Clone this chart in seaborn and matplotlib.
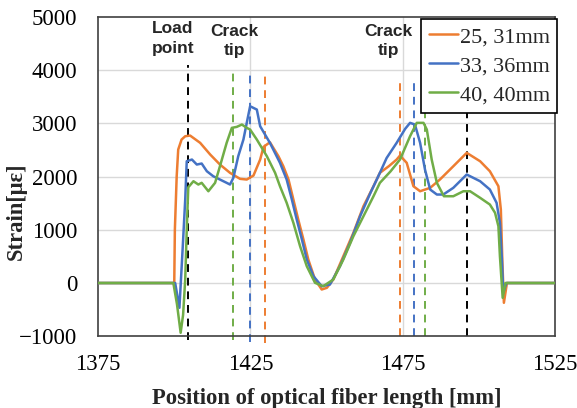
import numpy as np
import pandas as pd
import matplotlib
matplotlib.use("Agg")
import matplotlib.pyplot as plt
import seaborn as sns

# Strain profiles along the optical fiber (position in mm, strain in micro-strain)
series_names = ["25, 31mm", "33, 36mm", "40, 40mm"]
series_colors = ["#ED7D31", "#4472C4", "#70AD47"]

pos_25 = [1375, 1400.0, 1400.2, 1400.8, 1401.3, 1402.4, 1403.6, 1405.2, 1408.5, 1411.8,
          1415.0, 1418.3, 1421.6, 1423.8, 1426.0, 1428.2, 1429.3, 1431.4, 1434.2, 1435.8,
          1437.5, 1439.1, 1440.7, 1442.4, 1444.0, 1446.2, 1448.4, 1450.1, 1452.2, 1455.5,
          1458.8, 1462.1, 1465.4, 1467.5, 1470.5, 1473.0, 1474.1, 1476.3, 1478.5, 1480.7,
          1484.0, 1487.2, 1491.6, 1496.0, 1500.4, 1503.6, 1506.4, 1507.2, 1507.7, 1508.2,
          1509.2, 1525]
strain_25 = [0, 0, 1000, 2008, 2510, 2698, 2760, 2773, 2636, 2416,
             2228, 2072, 1959, 1946, 2021, 2322, 2560, 2647, 2384, 2196,
             1946, 1570, 1194, 818, 442, 66, -122, -90, 66, 504,
             944, 1444, 1820, 2072, 2200, 2322, 2397, 2260, 1820, 1726,
             1790, 1946, 2196, 2448, 2290, 2102, 1820, 1382, 400, -372,
             0, 0]

pos_33 = [1375, 1400.3, 1401.7, 1402.8, 1403.6, 1404.1, 1405.8, 1407.4, 1409.0, 1410.7,
          1412.8, 1415.0, 1417.2, 1418.3, 1419.4, 1421.0, 1422.7, 1423.8, 1424.9, 1427.1,
          1428.2, 1431.4, 1434.7, 1436.9, 1438.6, 1440.2, 1441.9, 1443.5, 1445.7, 1448.4,
          1451.1, 1454.4, 1457.7, 1461.0, 1464.4, 1467.5, 1469.7, 1473.0, 1475.8, 1477.4,
          1479.0, 1480.7, 1482.3, 1484.0, 1486.2, 1488.3, 1491.6, 1496.0, 1500.4, 1503.6,
          1505.8, 1506.9, 1507.5, 1508.0, 1509.0, 1525]
strain_33 = [0, 0, -466, 692, 1570, 2290, 2322, 2228, 2247, 2102,
             2008, 1946, 1884, 1852, 1978, 2384, 2698, 3012, 3324, 3262,
             2948, 2636, 2260, 1946, 1570, 1194, 818, 442, 128, -60,
             -28, 316, 755, 1256, 1696, 2072, 2350, 2636, 2900, 3012,
             2980, 2636, 2134, 1758, 1664, 1664, 1790, 2040, 1914, 1758,
             1508, 1132, 500, -184, 0, 0]

pos_40 = [1375, 1399.7, 1400.9, 1402.1, 1402.9, 1403.6, 1404.1, 1404.6, 1406.3, 1407.9,
          1409.0, 1411.2, 1413.4, 1415.0, 1417.2, 1418.9, 1420.5, 1422.2, 1423.8, 1424.9,
          1427.1, 1430.4, 1433.1, 1434.7, 1436.9, 1439.1, 1441.3, 1443.5, 1446.2, 1448.9,
          1452.2, 1455.5, 1458.8, 1462.1, 1465.4, 1467.5, 1471.0, 1474.1, 1477.4, 1479.6,
          1481.8, 1482.9, 1484.5, 1486.2, 1488.5, 1491.6, 1494.9, 1497.1, 1500.4, 1503.6,
          1505.3, 1506.4, 1506.9, 1507.8, 1508.7, 1525]
strain_40 = [0, 0, -400, -936, -600, 66, 1000, 1800, 1914, 1852,
             1884, 1726, 1884, 2196, 2636, 2918, 2936, 2980, 2918, 2886,
             2698, 2384, 2072, 1820, 1508, 1132, 692, 316, 4, -60,
             66, 442, 880, 1256, 1632, 1884, 2100, 2322, 2760, 3012,
             3012, 2886, 2322, 1884, 1632, 1632, 1726, 1726, 1602, 1476,
             1320, 1068, 500, -278, 0, 0]

# Reference markers: load points and crack tips (position, colour, extent)
marker_pos = [1404.4, 1419.2, 1424.9, 1429.8, 1474.1, 1478.8, 1482.4, 1496.0]
marker_colors = ["#000000", "#70AD47", "#4472C4", "#ED7D31",
                 "#ED7D31", "#4472C4", "#70AD47", "#000000"]
marker_top = [4100, 4000, 3980, 3980, 3780, 3780, 3200, 3200]
marker_bottom = [-1080, -1080, -1100, -1120, -1000, -1000, -1000, -1000]

x_ticks = [1375, 1425, 1475, 1525]
y_ticks = [-1000, 0, 1000, 2000, 3000, 4000, 5000]

frames = []
for name, xs, ys in zip(series_names, [pos_25, pos_33, pos_40],
                        [strain_25, strain_33, strain_40]):
    frames.append(pd.DataFrame({"position": xs, "strain": ys, "series": name}))
data = pd.concat(frames, ignore_index=True)

sns.set_theme(style="white")
plt.rcParams["font.family"] = ["Liberation Serif", "DejaVu Serif"]

fig = plt.figure(figsize=(5.77, 4.08), dpi=100)
ax = fig.add_axes([0.170, 0.176, 0.792, 0.782])

for x in [1425, 1475]:
    ax.axvline(x, color="#D9D9D9", lw=1.0, zorder=0)
for y in y_ticks[1:-1]:
    ax.axhline(y, color="#D9D9D9", lw=1.0, zorder=0)

sns.lineplot(data=data, x="position", y="strain", hue="series",
             palette=dict(zip(series_names, series_colors)),
             estimator=None, sort=False, lw=1.8, ax=ax, zorder=3)

for xp, c, top, bot in zip(marker_pos, marker_colors, marker_top, marker_bottom):
    ax.plot([xp, xp], [bot, top], color=c, lw=1.4, ls=(0, (4, 3)),
            zorder=2, clip_on=False)

label_font = dict(family=["Liberation Sans", "DejaVu Sans"], fontweight="bold",
                  fontsize=12.5, ha="center", va="center", linespacing=1.4)
ax.text(1399.5, 4600, "Load\npoint", **label_font)
ax.text(1419.7, 4550, "Crack\ntip", **label_font)
ax.text(1470.2, 4550, "Crack\ntip", **label_font)

ax.set_xlim(1375, 1525)
ax.set_ylim(-1000, 5000)
ax.set_xticks(x_ticks)
ax.set_yticks(y_ticks)
ax.tick_params(axis="both", length=0, labelsize=16.5, colors="#000000")
ax.tick_params(axis="y", pad=15)
ax.tick_params(axis="x", pad=13)

ax.set_xlabel("Position of optical fiber length [mm]", fontsize=16.3,
              fontweight="bold", labelpad=9)
ax.set_ylabel("Strain[με]", fontsize=16.3, fontweight="bold")
ax.yaxis.set_label_coords(-0.155, 0.392)

for sp in ax.spines.values():
    sp.set_color("#404040")
    sp.set_linewidth(1.2)

handles, labels = ax.get_legend_handles_labels()
leg = ax.legend(handles, labels, loc="upper right", bbox_to_anchor=(1.005, 0.993),
                fontsize=16, frameon=True, fancybox=False, framealpha=1,
                edgecolor="#000000", handlelength=1.3, handletextpad=0.1,
                labelspacing=0.38, borderpad=0.33, borderaxespad=0)
leg.get_frame().set_linewidth(1.2)
leg.set_zorder(5)

fig.savefig("out.png", dpi=100, facecolor="white")
